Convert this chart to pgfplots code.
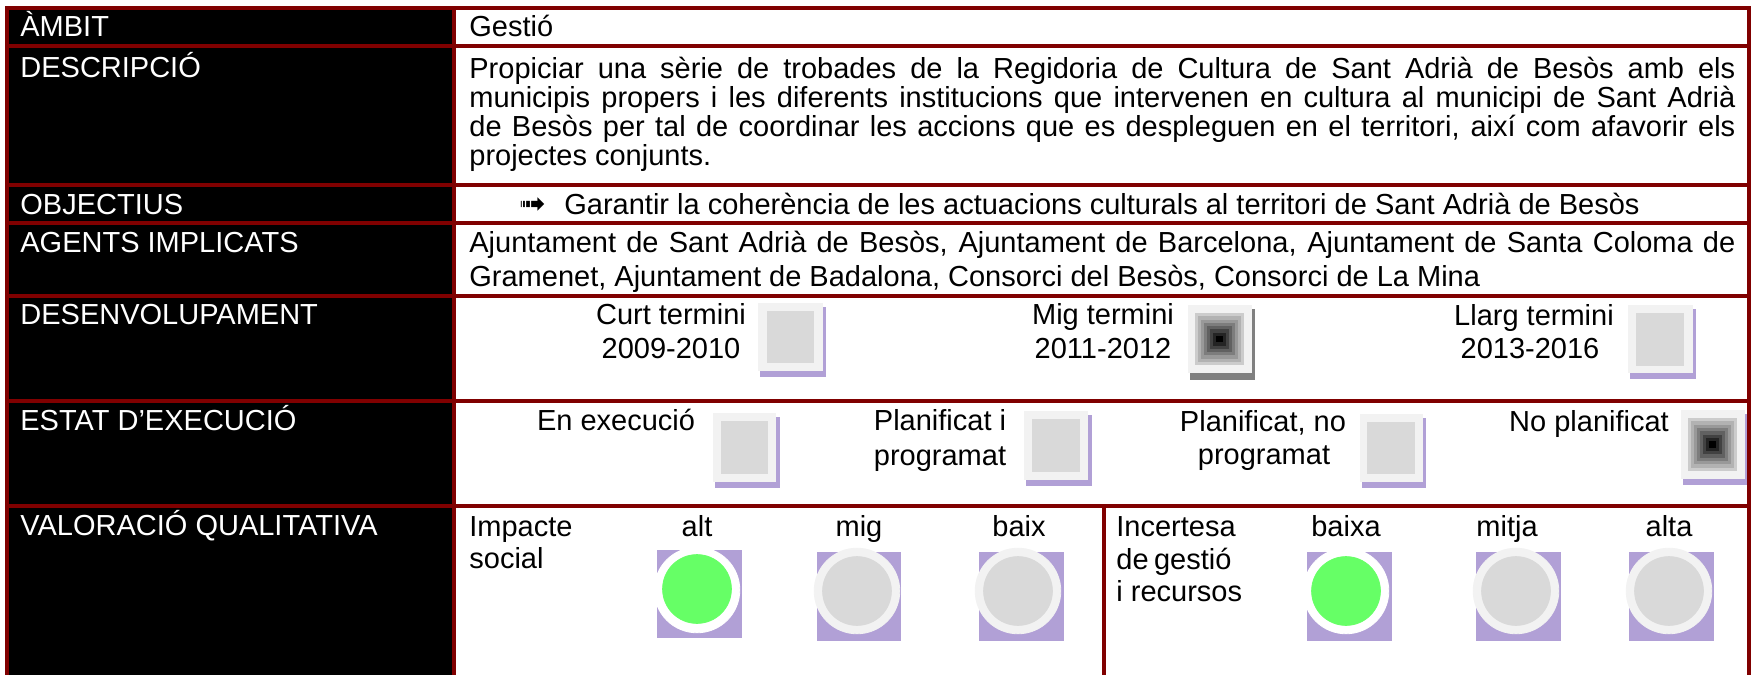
\documentclass[border=0pt]{standalone}
\usepackage{pgfplots}
\pgfplotsset{compat=1.18}
\usepackage{fontspec}
\setmainfont{Liberation Sans}
\newfontfamily\djv{DejaVu Sans}
\definecolor{bord}{RGB}{128,0,0}
\definecolor{lgray}{RGB}{242,242,242}
\definecolor{mgray}{RGB}{217,217,217}
\definecolor{purp}{RGB}{177,160,214}
\definecolor{grn}{RGB}{102,255,102}
\definecolor{shgray}{RGB}{128,128,128}
\newcommand{\F}{\fontsize{14.5bp}{17bp}\selectfont}
\newcommand{\rect}[5]{\addplot[#5, draw=none] coordinates {(#1,#3) (#2,#3) (#2,#4) (#1,#4)} -- cycle;}
\tikzset{
  L/.style={anchor=base west, inner sep=0pt, text=white, font=\F},
  R/.style={anchor=base west, inner sep=0pt, text=black, font=\F},
  C/.style={anchor=base, inner sep=0pt, text=black, font=\F}}
\begin{document}
\begin{tikzpicture}
\begin{axis}[width=876bp, height=337.5bp, scale only axis,
  xmin=0, xmax=1752, ymin=0, ymax=675, y dir=reverse, hide axis]
% background
\rect{0}{1752}{0}{675}{fill=white}
% left column
\rect{9}{452}{10}{675}{fill=black}
% borders horizontal
\rect{5}{1751}{6}{10}{fill=bord}
\rect{5}{1751}{44}{48}{fill=bord}
\rect{5}{1751}{183}{187}{fill=bord}
\rect{5}{1751}{221}{225}{fill=bord}
\rect{5}{1751}{294}{298}{fill=bord}
\rect{5}{1751}{399}{403}{fill=bord}
\rect{5}{1751}{504}{508}{fill=bord}
% borders vertical
\rect{5}{9}{6}{675}{fill=bord}
\rect{452}{456}{6}{675}{fill=bord}
\rect{1747}{1751}{6}{675}{fill=bord}
\rect{1102}{1106}{504}{675}{fill=bord}
% ---- DESENVOLUPAMENT boxes
% A
\rect{760}{826}{307}{377}{fill=purp}
\rect{758}{823}{303}{371}{fill=lgray}
\rect{767}{814}{311}{363}{fill=mgray}
% B
\rect{1190}{1255}{309}{380}{fill=shgray}
\rect{1188}{1252}{305}{373}{fill=lgray}
\rect{1195}{1244}{313}{365}{fill=black!20}
\rect{1198.1}{1240.9}{316.3}{361.8}{fill=black!30}
\rect{1201.1}{1237.9}{319.5}{358.5}{fill=black!40}
\rect{1204.2}{1234.8}{322.8}{355.3}{fill=black!51}
\rect{1207.3}{1231.8}{326}{352}{fill=black!62}
\rect{1210.3}{1228.7}{329.3}{348.8}{fill=black!74}
\rect{1213.4}{1225.6}{332.5}{345.5}{fill=black!86}
\rect{1216.4}{1222.6}{335.8}{342.3}{fill=black}
% C
\rect{1630}{1696}{309}{379}{fill=purp}
\rect{1628}{1693}{305}{373}{fill=lgray}
\rect{1636}{1684}{313}{366}{fill=mgray}
% ---- ESTAT boxes
% D
\rect{715}{780}{417}{488}{fill=purp}
\rect{713}{776}{413}{482}{fill=lgray}
\rect{721}{768}{421}{474}{fill=mgray}
% E
\rect{1026}{1092}{415}{486}{fill=purp}
\rect{1024}{1088}{411}{480}{fill=lgray}
\rect{1032}{1080}{419}{472}{fill=mgray}
% F
\rect{1362}{1426}{418}{488}{fill=purp}
\rect{1360}{1423}{414}{482}{fill=lgray}
\rect{1367}{1415}{422}{474}{fill=mgray}
% G
\rect{1683}{1747}{414}{485}{fill=purp}
\rect{1681}{1745}{410}{479}{fill=lgray}
\rect{1688}{1737}{418}{471}{fill=black!20}
\rect{1691.1}{1733.9}{421.3}{467.7}{fill=black!30}
\rect{1694.1}{1730.9}{424.6}{464.4}{fill=black!40}
\rect{1697.2}{1727.8}{427.9}{461.1}{fill=black!51}
\rect{1700.3}{1724.8}{431.3}{457.8}{fill=black!62}
\rect{1703.3}{1721.7}{434.6}{454.4}{fill=black!74}
\rect{1706.4}{1718.6}{437.9}{451.1}{fill=black!86}
\rect{1709.4}{1715.6}{441.2}{447.8}{fill=black}
% ---- VALORACIO purple squares
\rect{657}{742}{550}{638}{fill=purp}
\rect{817}{901}{552}{641}{fill=purp}
\rect{979}{1064}{552}{641}{fill=purp}
\rect{1307}{1392}{552}{641}{fill=purp}
\rect{1476}{1561}{552}{641}{fill=purp}
\rect{1629}{1714}{552}{641}{fill=purp}
% circles
\addplot[only marks, draw=none, mark=*, mark size=21.4bp, mark options={fill=white, draw=white}] coordinates {(697,590) (1346,591)};
\addplot[only marks, draw=none, mark=*, mark size=17.2bp, mark options={fill=grn, draw=grn}] coordinates {(697,589) (1346,591)};
\addplot[only marks, draw=none, mark=*, mark size=21.4bp, mark options={fill=lgray, draw=lgray}] coordinates {(857,591) (1018,591) (1516,591) (1669,591)};
\addplot[only marks, draw=none, mark=*, mark size=17.2bp, mark options={fill=mgray, draw=mgray}] coordinates {(857,591) (1018,591) (1516,591) (1669,591)};
% ---- left column texts
\node[L] at (axis cs:20,37) {ÀMBIT};
\node[L] at (axis cs:20,77) {DESCRIPCIÓ};
\node[L] at (axis cs:20,214) {OBJECTIUS};
\node[L] at (axis cs:20,252) {AGENTS IMPLICATS};
\node[L] at (axis cs:20,324) {DESENVOLUPAMENT};
\node[L] at (axis cs:20,430) {ESTAT D’EXECUCIÓ};
\node[L] at (axis cs:20,535) {VALORACIÓ QUALITATIVA};
% ---- right texts
\node[R] at (axis cs:469,37) {Gestió};
\node[R] at (axis cs:469,78) {\makebox[633bp][s]{Propiciar una sèrie de trobades de la Regidoria de Cultura de Sant Adrià de Besòs amb els}};
\node[R] at (axis cs:469,107) {\makebox[633bp][s]{municipis propers i les diferents institucions que intervenen en cultura al municipi de Sant Adrià}};
\node[R] at (axis cs:469,136) {\makebox[633bp][s]{de Besòs per tal de coordinar les accions que es despleguen en el territori, així com afavorir els}};
\node[R] at (axis cs:469,165) {projectes conjunts.};
\node[R] at (axis cs:519,214) {{\djv\fontsize{16bp}{18bp}\selectfont ➟}};
\node[R] at (axis cs:564,214) {Garantir la coherència de les actuacions culturals al territori de Sant Adrià de Besòs};
\node[R] at (axis cs:469,252) {\makebox[633bp][s]{Ajuntament de Sant Adrià de Besòs, Ajuntament de Barcelona, Ajuntament de Santa Coloma de}};
\node[R] at (axis cs:469,286) {Gramenet, Ajuntament de Badalona, Consorci del Besòs, Consorci de La Mina};
% desenvolupament
\node[C] at (axis cs:671,324) {Curt termini};
\node[C] at (axis cs:671,358) {2009-2010};
\node[C] at (axis cs:1103,324) {Mig termini};
\node[C] at (axis cs:1103,358) {2011-2012};
\node[C] at (axis cs:1534,325) {Llarg termini};
\node[C] at (axis cs:1530,358) {2013-2016};
% estat
\node[C] at (axis cs:616,430) {En execució};
\node[C] at (axis cs:940,430) {Planificat i};
\node[C] at (axis cs:940,465) {programat};
\node[C] at (axis cs:1263,431) {Planificat, no};
\node[C] at (axis cs:1264,464) {programat};
\node[C] at (axis cs:1589,431) {No planificat};
% valoracio
\node[R] at (axis cs:469,536) {Impacte};
\node[R] at (axis cs:469,568) {social};
\node[C] at (axis cs:697,536) {alt};
\node[C] at (axis cs:859,536) {mig};
\node[C] at (axis cs:1019,536) {baix};
\node[R] at (axis cs:1116,536) {Incertesa};
\node[R] at (axis cs:1116,569) {\makebox[50.5bp][s]{de gestió}};
\node[R] at (axis cs:1116,601) {i recursos};
\node[C] at (axis cs:1346,536) {baixa};
\node[C] at (axis cs:1507,536) {mitja};
\node[C] at (axis cs:1669,536) {alta};
\end{axis}
\end{tikzpicture}
\end{document}
